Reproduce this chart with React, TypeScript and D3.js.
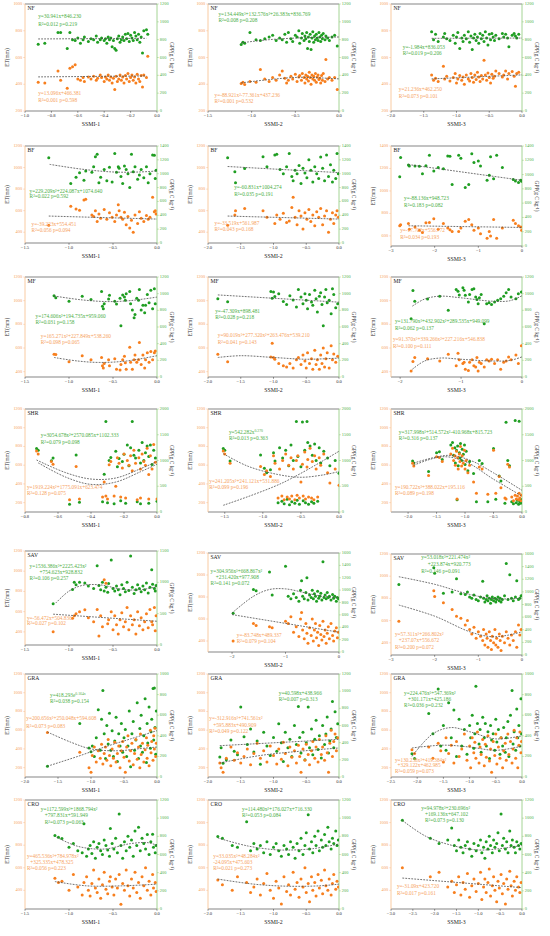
import React from 'react';
import * as d3 from 'd3';

// ---------- DATA: [SSMI, ET(mm), GPP] per panel ----------
const nf1 = [[-0.90,415,750],[-0.85,410,760],[-0.75,500,880],[-0.73,430,880],[-0.68,370,700],[-0.66,520,880],[-0.64,530,800],[-0.62,545,790],[-0.60,440,820],[-0.58,430,760],[-0.56,450,800],[-0.55,420,830],[-0.52,455,780],[-0.50,440,810],[-0.48,460,800],[-0.46,430,840],[-0.45,445,770],[-0.43,470,800],[-0.42,450,820],[-0.40,420,790],[-0.39,455,810],[-0.38,440,760],[-0.37,470,830],[-0.36,430,800],[-0.35,455,820],[-0.34,410,720],[-0.33,445,790],[-0.32,360,700],[-0.31,460,680],[-0.30,420,810],[-0.29,440,840],[-0.28,470,770],[-0.27,430,800],[-0.26,455,830],[-0.25,410,790],[-0.24,465,860],[-0.23,440,810],[-0.22,480,870],[-0.21,420,780],[-0.20,450,850],[-0.19,470,820],[-0.18,430,790],[-0.17,455,880],[-0.16,410,840],[-0.15,475,800],[-0.14,440,860],[-0.13,420,770],[-0.12,465,830],[-0.11,380,650],[-0.10,470,900],[-0.08,450,910],[-0.07,610,860]];
const nf2 = [[-1.12,405,745],[-1.10,415,770],[-1.08,398,760],[-1.02,420,880],[-0.95,415,800],[-0.90,510,790],[-0.85,440,810],[-0.80,420,830],[-0.76,450,850],[-0.72,430,790],[-0.68,470,820],[-0.65,500,800],[-0.62,445,860],[-0.60,410,770],[-0.58,430,880],[-0.55,460,810],[-0.53,440,780],[-0.50,475,850],[-0.48,420,830],[-0.46,455,900],[-0.45,465,760],[-0.43,430,820],[-0.42,480,870],[-0.40,450,790],[-0.39,410,840],[-0.38,470,810],[-0.37,440,880],[-0.36,460,700],[-0.35,425,830],[-0.34,490,780],[-0.33,450,860],[-0.32,400,690],[-0.31,470,820],[-0.30,440,890],[-0.29,460,770],[-0.28,430,840],[-0.27,480,800],[-0.26,415,860],[-0.25,455,820],[-0.24,470,790],[-0.23,435,880],[-0.22,445,830],[-0.21,410,780],[-0.20,465,850],[-0.19,430,810],[-0.18,480,870],[-0.16,420,800],[-0.15,585,840],[-0.13,440,820],[-0.11,450,790],[-0.08,430,830],[-0.05,450,850],[-0.02,360,730]];
const nf3 = [[-1.38,470,890],[-1.35,430,800],[-1.32,445,860],[-1.28,420,780],[-1.20,535,830],[-1.18,440,870],[-1.15,460,810],[-1.10,425,790],[-1.05,450,850],[-1.02,480,760],[-1.00,410,830],[-0.98,440,880],[-0.95,465,700],[-0.92,430,820],[-0.90,455,780],[-0.88,400,850],[-0.85,470,810],[-0.82,440,890],[-0.80,425,770],[-0.78,480,840],[-0.76,450,690],[-0.74,415,820],[-0.72,470,860],[-0.70,435,790],[-0.68,490,830],[-0.66,455,760],[-0.64,420,870],[-0.62,465,810],[-0.60,440,850],[-0.58,580,780],[-0.56,470,890],[-0.54,430,820],[-0.52,485,740],[-0.50,450,860],[-0.48,410,800],[-0.46,475,870],[-0.44,445,830],[-0.42,460,790],[-0.40,500,850],[-0.35,480,810],[-0.30,455,870],[-0.28,470,830],[-0.25,500,860],[-0.22,440,820],[-0.20,480,720],[-0.15,495,850],[-0.12,460,870],[-0.10,385,840],[-0.08,480,820],[-0.05,490,860]];
const bf1 = [[-1.23,465,1230],[-0.98,640,860],[-0.92,615,950],[-0.88,605,1015],[-0.83,700,905],[-0.81,705,1040],[-0.74,560,1020],[-0.72,545,1100],[-0.70,600,1245],[-0.68,500,1280],[-0.66,570,870],[-0.64,530,950],[-0.60,610,1060],[-0.57,520,900],[-0.54,580,1095],[-0.51,540,880],[-0.48,500,1290],[-0.46,560,1020],[-0.44,655,1100],[-0.43,600,1080],[-0.41,540,960],[-0.39,520,860],[-0.37,585,1110],[-0.35,470,1060],[-0.33,545,1000],[-0.31,440,800],[-0.29,510,1280],[-0.27,400,1030],[-0.25,560,1100],[-0.22,480,920],[-0.20,590,980],[-0.18,530,1060],[-0.15,500,940],[-0.12,555,1100],[-0.10,520,870],[-0.08,540,1000],[-0.05,725,1270],[-0.03,590,1265],[-0.02,600,930],[-0.01,570,1050]];
const bf2 = [[-1.70,465,1230],[-1.59,560,1030],[-1.58,600,870],[-1.44,620,1075],[-1.16,600,1245],[-1.10,540,1100],[-0.98,480,1270],[-0.95,560,1280],[-0.90,520,1060],[-0.85,575,1000],[-0.80,490,1100],[-0.76,505,1290],[-0.72,630,960],[-0.70,725,900],[-0.67,540,1050],[-0.64,470,1000],[-0.61,600,1120],[-0.58,550,860],[-0.55,430,1080],[-0.52,580,1010],[-0.49,520,940],[-0.46,610,1200],[-0.43,500,1050],[-0.40,560,880],[-0.37,460,1100],[-0.34,590,1000],[-0.31,540,930],[-0.28,620,1240],[-0.25,470,1080],[-0.22,550,900],[-0.19,600,1270],[-0.16,400,960],[-0.13,520,1130],[-0.10,580,880],[-0.08,480,1050],[-0.05,560,930],[-0.03,600,1290],[-0.01,540,1000]];
const bf3 = [[-2.80,690,970],[-2.78,700,1240],[-2.60,710,1135],[-2.58,660,1120],[-2.45,680,1120],[-2.35,650,1115],[-2.28,630,1010],[-2.20,716,1125],[-2.12,720,1270],[-2.02,752,1050],[-1.92,660,1100],[-1.80,710,1080],[-1.70,670,1260],[-1.65,655,1255],[-1.60,640,860],[-1.45,640,1270],[-1.40,670,1230],[-1.30,730,820],[-1.22,745,860],[-1.15,700,1290],[-1.10,650,1170],[-1.00,670,1190],[-0.95,620,1120],[-0.80,580,920],[-0.75,640,990],[-0.72,600,1250],[-0.65,745,940],[-0.58,580,1270],[-0.45,670,1100],[-0.20,740,930],[-0.15,710,910],[-0.08,690,890],[-0.03,680,920],[-0.01,650,905]];
const mf1 = [[-1.17,548,975],[-1.15,545,950],[-1.00,483,910],[-0.85,535,969],[-0.75,500,930],[-0.63,520,1026],[-0.62,450,850],[-0.61,430,820],[-0.60,470,880],[-0.55,500,935],[-0.54,450,980],[-0.48,510,910],[-0.46,420,875],[-0.42,415,945],[-0.41,460,616],[-0.39,500,985],[-0.37,530,960],[-0.36,475,920],[-0.35,420,1000],[-0.31,607,1025],[-0.30,480,880],[-0.28,420,805],[-0.26,500,710],[-0.25,540,750],[-0.23,480,945],[-0.21,500,920],[-0.20,647,1050],[-0.18,460,805],[-0.16,540,860],[-0.14,430,770],[-0.13,500,860],[-0.11,560,990],[-0.09,480,890],[-0.07,570,1040],[-0.05,500,820],[-0.03,560,1060],[-0.02,575,880]];
const mf2 = [[-1.85,548,938],[-1.70,483,904],[-1.04,525,1026],[-1.02,640,945],[-1.00,520,1020],[-0.98,505,965],[-0.92,470,1000],[-0.85,450,905],[-0.80,440,870],[-0.75,470,975],[-0.70,430,925],[-0.65,500,840],[-0.62,520,1050],[-0.58,460,960],[-0.55,540,880],[-0.52,490,1000],[-0.50,430,920],[-0.48,560,820],[-0.45,470,990],[-0.42,510,900],[-0.40,420,860],[-0.37,580,1040],[-0.35,460,940],[-0.33,500,780],[-0.30,420,970],[-0.28,540,1010],[-0.26,470,870],[-0.24,600,616],[-0.22,440,960],[-0.20,510,1050],[-0.18,560,890],[-0.15,430,920],[-0.12,620,760],[-0.10,500,1060],[-0.08,550,990],[-0.05,480,830],[-0.02,530,880]];
const mf3 = [[-1.82,405,700],[-1.79,486,1038],[-1.76,520,910],[-1.55,510,935],[-1.35,490,970],[-1.21,548,800],[-1.08,450,1050],[-1.05,555,1030],[-1.03,500,985],[-0.97,470,1070],[-0.95,480,1040],[-0.93,420,980],[-0.88,410,900],[-0.86,480,990],[-0.82,500,1050],[-0.79,450,1060],[-0.76,440,960],[-0.74,520,930],[-0.72,405,880],[-0.70,480,950],[-0.67,470,990],[-0.62,440,640],[-0.58,500,880],[-0.54,490,890],[-0.50,505,870],[-0.45,470,900],[-0.40,500,920],[-0.35,420,940],[-0.30,480,970],[-0.26,490,1010],[-0.22,525,1050],[-0.18,500,960],[-0.10,540,940],[-0.06,470,1000],[-0.01,620,1020]];
const shr1 = [[-0.73,751,1233],[-0.72,720,1200],[-0.64,640,997],[-0.63,610,1050],[-0.53,230,150],[-0.49,586,1105],[-0.47,240,190],[-0.33,260,200],[-0.32,420,735],[-0.31,270,1757],[-0.30,240,180],[-0.29,604,1000],[-0.28,640,1060],[-0.26,270,160],[-0.25,375,1180],[-0.24,680,880],[-0.23,620,1040],[-0.22,260,220],[-0.21,570,980],[-0.20,720,1120],[-0.19,250,170],[-0.18,650,1300],[-0.17,600,900],[-0.16,700,1250],[-0.15,540,1757],[-0.14,760,1100],[-0.13,620,1050],[-0.12,230,200],[-0.11,680,1200],[-0.10,560,950],[-0.10,250,160],[-0.09,720,1350],[-0.08,640,1000],[-0.07,600,1150],[-0.06,780,1280],[-0.05,500,1080],[-0.05,240,170],[-0.04,700,1300],[-0.03,560,920],[-0.02,820,1200],[-0.01,630,1050],[0.00,240,210]];
const shr2 = [[-1.52,751,1233],[-1.50,720,1200],[-1.43,621,990],[-1.03,586,1105],[-0.98,500,850],[-0.95,540,760],[-0.90,480,820],[-0.86,700,1150],[-0.84,620,990],[-0.80,250,180],[-0.78,560,1250],[-0.75,270,210],[-0.74,650,1050],[-0.72,230,160],[-0.70,720,1200],[-0.68,260,250],[-0.66,600,900],[-0.65,240,140],[-0.63,680,1300],[-0.62,270,200],[-0.60,560,1000],[-0.58,230,170],[-0.56,650,1757],[-0.55,280,230],[-0.54,700,1080],[-0.52,250,150],[-0.50,420,880],[-0.48,610,1750],[-0.47,270,220],[-0.45,740,1200],[-0.44,240,180],[-0.42,580,1757],[-0.41,660,1350],[-0.40,260,150],[-0.38,780,1280],[-0.36,250,200],[-0.35,640,1100],[-0.33,230,170],[-0.32,700,1320],[-0.30,560,1000],[-0.28,260,210],[-0.26,680,1250],[-0.24,600,950],[-0.20,720,1180],[-0.15,520,1050],[-0.12,410,900],[-0.05,560,1000],[0.00,386,754]];
const shr3 = [[-1.92,621,990],[-1.90,590,950],[-1.64,491,787],[-1.50,690,1150],[-1.45,681,1170],[-1.40,640,1020],[-1.25,720,1300],[-1.22,780,1350],[-1.20,650,1100],[-1.18,700,1250],[-1.17,600,950],[-1.15,750,1200],[-1.14,240,240],[-1.13,680,1280],[-1.12,560,900],[-1.10,720,1150],[-1.09,640,1050],[-1.08,800,1330],[-1.06,590,1000],[-1.05,700,1220],[-1.03,620,1120],[-1.01,760,1300],[-1.00,560,920],[-0.98,650,1180],[-0.95,520,800],[-0.92,600,980],[-0.85,420,750],[-0.80,300,200],[-0.75,580,1000],[-0.70,560,940],[-0.60,290,200],[-0.50,760,1233],[-0.46,300,250],[-0.40,480,700],[-0.37,358,600],[-0.30,250,170],[-0.28,240,1745],[-0.25,610,1000],[-0.22,580,900],[-0.18,260,200],[-0.15,220,160],[-0.12,280,1776],[-0.10,240,180],[-0.08,270,230],[-0.06,230,150],[-0.05,300,1760],[-0.04,250,200],[-0.02,220,170],[-0.01,280,240]];
const sav1 = [[-1.18,400,657],[-0.96,535,884],[-0.94,560,1003],[-0.92,580,960],[-0.88,600,1000],[-0.82,619,990],[-0.78,540,940],[-0.72,500,900],[-0.68,620,1263],[-0.66,360,950],[-0.64,560,880],[-0.62,450,1000],[-0.60,916,860],[-0.58,880,920],[-0.56,480,840],[-0.55,520,980],[-0.52,600,1357],[-0.50,420,900],[-0.48,560,860],[-0.46,470,940],[-0.44,380,880],[-0.42,520,800],[-0.40,590,960],[-0.38,450,900],[-0.36,500,850],[-0.34,640,1000],[-0.32,420,870],[-0.30,560,1419],[-0.28,470,920],[-0.26,520,820],[-0.24,380,880],[-0.22,600,960],[-0.20,460,900],[-0.18,540,850],[-0.16,420,940],[-0.14,500,880],[-0.12,580,990],[-0.10,440,830],[-0.08,620,920],[-0.06,500,1201],[-0.05,470,970],[-0.03,640,900],[-0.02,410,860],[-0.01,560,950]];
const sav2 = [[-1.98,400,626],[-1.60,560,1010],[-1.55,540,990],[-1.30,530,1293],[-1.25,520,920],[-1.00,580,1385],[-0.95,560,900],[-0.90,620,860],[-0.85,480,940],[-0.80,530,880],[-0.75,440,820],[-0.72,600,1000],[-0.70,660,1150],[-0.68,500,900],[-0.65,420,860],[-0.62,560,960],[-0.60,470,1200],[-0.58,380,840],[-0.55,520,920],[-0.52,450,880],[-0.50,600,1000],[-0.48,400,860],[-0.46,500,940],[-0.44,560,900],[-0.42,430,820],[-0.40,480,980],[-0.38,360,870],[-0.36,540,900],[-0.34,460,950],[-0.32,410,840],[-0.30,580,1457],[-0.28,440,880],[-0.26,500,920],[-0.24,380,860],[-0.22,470,960],[-0.20,530,880],[-0.18,420,900],[-0.15,560,840],[-0.12,450,930],[-0.10,400,870],[-0.08,490,900],[-0.05,520,820],[-0.03,430,880],[-0.01,480,860]];
const sav3 = [[-2.82,594,1118],[-2.02,868,1382],[-2.00,816,1295],[-1.80,760,980],[-1.60,700,1000],[-1.50,640,1209],[-1.40,620,970],[-1.30,560,960],[-1.25,600,1000],[-1.20,520,920],[-1.15,480,900],[-1.10,540,950],[-1.05,440,880],[-1.00,500,860],[-0.95,460,920],[-0.90,420,1168],[-0.88,520,900],[-0.85,380,840],[-0.82,480,880],[-0.80,440,940],[-0.78,360,860],[-0.75,500,900],[-0.72,420,820],[-0.70,340,880],[-0.68,460,920],[-0.65,400,860],[-0.62,520,900],[-0.60,380,840],[-0.58,440,880],[-0.55,360,920],[-0.52,480,860],[-0.50,420,900],[-0.48,330,840],[-0.45,460,880],[-0.40,400,940],[-0.36,500,1448],[-0.32,440,880],[-0.28,380,1270],[-0.24,470,900],[-0.20,420,860],[-0.15,500,920],[-0.12,360,1178],[-0.08,560,880],[-0.05,470,900],[-0.02,520,940]];
const gra1 = [[-1.66,575,105],[-1.17,365,520],[-1.03,200,281],[-1.00,150,245],[-0.98,330,300],[-0.95,420,200],[-0.92,260,380],[-0.89,380,654],[-0.86,300,260],[-0.84,450,560],[-0.82,240,839],[-0.80,350,420],[-0.78,420,180],[-0.76,280,500],[-0.74,500,320],[-0.72,330,620],[-0.70,220,260],[-0.68,400,450],[-0.66,300,200],[-0.64,470,350],[-0.62,260,580],[-0.60,350,150],[-0.58,430,420],[-0.56,200,300],[-0.54,380,520],[-0.52,480,240],[-0.50,310,380],[-0.48,150,460],[-0.46,420,200],[-0.44,540,300],[-0.42,270,640],[-0.40,380,100],[-0.38,460,420],[-0.36,230,540],[-0.34,350,260],[-0.32,500,360],[-0.30,290,720],[-0.28,420,180],[-0.26,200,470],[-0.25,560,300],[-0.24,340,600],[-0.22,460,240],[-0.20,260,400],[-0.18,390,760],[-0.16,520,140],[-0.15,300,520],[-0.14,440,330],[-0.12,220,680],[-0.10,600,280],[-0.09,360,440],[-0.08,480,560],[-0.06,280,860],[-0.05,540,360],[-0.04,400,865],[-0.03,620,480],[-0.02,320,220],[-0.01,460,640]];
const gra2 = [[-1.82,250,233],[-1.80,200,340],[-1.77,150,160],[-1.72,300,200],[-1.65,420,430],[-1.60,280,300],[-1.55,360,260],[-1.50,250,815],[-1.45,320,470],[-1.40,400,380],[-1.35,230,560],[-1.30,350,290],[-1.25,460,420],[-1.20,300,150],[-1.15,380,520],[-1.10,260,360],[-1.05,430,250],[-1.00,330,460],[-0.95,240,300],[-0.92,400,620],[-0.88,290,400],[-0.85,470,180],[-0.82,350,520],[-0.78,220,340],[-0.75,420,440],[-0.72,310,240],[-0.68,380,600],[-0.65,250,380],[-0.62,440,820],[-0.60,320,460],[-0.58,150,280],[-0.55,400,520],[-0.52,280,200],[-0.50,450,400],[-0.47,340,815],[-0.45,230,340],[-0.42,380,560],[-0.40,480,260],[-0.37,300,440],[-0.35,420,660],[-0.32,260,320],[-0.30,500,480],[-0.27,340,220],[-0.25,420,600],[-0.22,280,380],[-0.20,540,500],[-0.18,360,700],[-0.16,150,280],[-0.14,460,420],[-0.12,600,560],[-0.10,320,880],[-0.08,480,340],[-0.06,560,760],[-0.04,380,460],[-0.02,520,620]];
const gra3 = [[-2.10,390,226],[-2.05,350,180],[-1.78,420,616],[-1.70,300,420],[-1.60,460,855],[-1.55,380,300],[-1.50,260,500],[-1.45,520,260],[-1.40,350,720],[-1.35,440,380],[-1.30,250,650],[-1.25,480,200],[-1.20,320,560],[-1.15,400,300],[-1.10,560,460],[-1.05,280,220],[-1.00,430,500],[-0.98,200,380],[-0.95,520,600],[-0.92,360,280],[-0.90,470,420],[-0.88,300,880],[-0.85,580,520],[-0.82,250,320],[-0.80,420,460],[-0.78,340,240],[-0.75,500,580],[-0.72,220,380],[-0.70,450,520],[-0.68,310,300],[-0.65,540,440],[-0.62,270,180],[-0.60,400,500],[-0.58,150,360],[-0.55,480,420],[-0.52,330,260],[-0.50,560,560],[-0.48,240,340],[-0.45,420,460],[-0.42,300,220],[-0.40,520,380],[-0.37,200,300],[-0.35,380,480],[-0.32,460,240],[-0.30,280,380],[-0.27,560,540],[-0.25,340,200],[-0.22,480,600],[-0.19,250,839],[-0.17,400,320],[-0.15,600,440],[-0.12,300,260],[-0.10,520,660],[-0.08,200,380],[-0.06,440,500],[-0.04,580,300],[-0.02,360,760],[-0.01,480,420]];
const cro1 = [[-1.16,508,808],[-1.12,470,790],[-1.08,480,777],[-1.00,400,680],[-0.95,540,720],[-0.90,430,640],[-0.85,360,620],[-0.83,470,938],[-0.80,520,580],[-0.78,400,660],[-0.76,350,700],[-0.74,460,610],[-0.72,580,740],[-0.70,420,560],[-0.68,380,680],[-0.66,500,720],[-0.64,330,640],[-0.62,450,600],[-0.60,560,760],[-0.58,410,700],[-0.56,370,650],[-0.54,480,580],[-0.53,520,885],[-0.51,430,720],[-0.49,360,660],[-0.47,500,780],[-0.45,420,620],[-0.43,540,1046],[-0.41,277,700],[-0.39,460,560],[-0.37,400,740],[-0.35,580,640],[-0.33,440,800],[-0.31,350,680],[-0.29,500,760],[-0.27,420,580],[-0.25,560,860],[-0.23,380,700],[-0.21,470,900],[-0.19,330,640],[-0.17,520,780],[-0.15,440,720],[-0.13,600,660],[-0.11,400,820],[-0.09,480,600],[-0.07,360,740],[-0.05,540,823],[-0.04,420,680],[-0.02,470,620],[-0.01,390,700]];
const cro2 = [[-1.85,492,797],[-1.78,450,780],[-1.63,400,700],[-1.55,520,680],[-1.41,470,961],[-1.35,380,640],[-1.30,430,720],[-1.25,500,660],[-1.20,360,700],[-1.15,460,620],[-1.10,550,740],[-1.05,400,600],[-1.00,330,680],[-0.96,480,720],[-0.92,420,640],[-0.88,280,580],[-0.84,520,700],[-0.80,390,660],[-0.77,450,600],[-0.74,360,740],[-0.70,560,680],[-0.67,410,560],[-0.64,470,720],[-0.61,340,640],[-0.58,500,780],[-0.55,430,600],[-0.52,600,700],[-0.50,380,840],[-0.47,460,1038],[-0.45,300,660],[-0.42,520,740],[-0.40,400,620],[-0.37,470,800],[-0.35,350,700],[-0.32,540,860],[-0.30,420,640],[-0.27,490,760],[-0.25,370,680],[-0.22,580,820],[-0.20,440,700],[-0.17,400,900],[-0.15,500,740],[-0.12,360,660],[-0.10,460,780],[-0.08,540,720],[-0.05,410,860],[-0.03,480,700],[-0.01,430,760]];
const cro3 = [[-2.74,600,977],[-2.10,520,780],[-1.90,560,720],[-1.70,430,760],[-1.61,480,892],[-1.55,380,700],[-1.50,450,640],[-1.45,520,760],[-1.40,360,680],[-1.35,470,620],[-1.30,410,700],[-1.25,550,740],[-1.20,340,660],[-1.15,440,580],[-1.10,500,720],[-1.05,390,640],[-1.00,460,700],[-0.95,560,760],[-0.92,320,620],[-0.88,430,680],[-0.85,500,560],[-0.82,380,740],[-0.78,470,660],[-0.75,590,800],[-0.72,350,700],[-0.68,440,620],[-0.65,520,760],[-0.62,400,680],[-0.58,300,720],[-0.55,480,840],[-0.52,420,640],[-0.48,540,1046],[-0.45,370,700],[-0.42,460,780],[-0.38,280,660],[-0.35,500,740],[-0.32,410,620],[-0.28,570,860],[-0.25,440,700],[-0.22,350,760],[-0.18,480,680],[-0.15,400,620],[-0.12,520,740],[-0.08,430,700],[-0.05,380,660],[-0.02,470,720]];

// ---------- fitted trend lines: [SSMI, value] ----------
const nf1EtFit = [[-0.90,455],[-0.08,462]];
const nf1GppFit = [[-0.90,808],[-0.08,815]];
const nf2EtFit = [[-1.12,410],[-0.8,435],[-0.45,452],[-0.2,447],[0,440]];
const nf2GppFit = [[-1.12,765],[-0.8,800],[-0.45,820],[-0.2,825],[0,830]];
const nf3EtFit = [[-1.38,440],[0,470]];
const nf3GppFit = [[-1.38,815],[0,818]];
const bf1EtFit = [[-1.23,550],[0,522]];
const bf1GppFit = [[-1.22,1135],[-0.85,1065],[-0.5,1025],[-0.2,1025],[0,1040]];
const bf2EtFit = [[-1.70,550],[0,522]];
const bf2GppFit = [[-1.70,1104],[0,1016]];
const bf3EtFit = [[-2.60,690],[0,675]];
const bf3GppFit = [[-2.60,1140],[0,920]];
const mf1EtFit = [[-1.17,520],[-0.9,490],[-0.65,478],[-0.35,490],[0,535]];
const mf1GppFit = [[-1.17,972],[-0.85,925],[-0.56,905],[-0.3,917],[0,959]];
const mf2EtFit = [[-1.85,520],[-1.5,535],[-1.0,520],[-0.5,505],[0,515]];
const mf2GppFit = [[-1.85,985],[0,898]];
const mf3EtFit = [[-1.8,420],[-1.6,490],[-1.35,515],[-1.0,505],[-0.5,490],[-0.2,495],[0,525]];
const mf3GppFit = [[-1.8,850],[-1.6,935],[-1.35,970],[-1.0,950],[-0.5,910],[-0.2,915],[0,975]];
const shr1EtFit = [[-0.72,625],[-0.55,470],[-0.4,395],[-0.25,420],[-0.1,530],[0,610]];
const shr1GppFit = [[-0.73,1010],[-0.55,760],[-0.4,640],[-0.25,660],[-0.1,840],[0,980]];
const shr2EtFit = [[-1.52,723],[-1.2,590],[-0.8,500],[-0.5,471],[-0.2,497],[0,532]];
const shr2GppFit = [[-1.52,130],[-0.75,560],[0,1180]];
const shr3EtFit = [[-1.9,600],[-1.4,690],[-1.0,640],[-0.5,450],[0,270]];
const shr3GppFit = [[-1.9,950],[-1.3,1100],[-0.9,1000],[-0.5,760],[0,420]];
const sav1EtFit = [[-1.18,575],[0,505]];
const sav1GppFit = [[-1.15,670],[-1.0,860],[-0.85,950],[-0.65,960],[-0.4,890],[-0.2,880],[0,930]];
const sav2EtFit = [[-2.0,640],[0,480]];
const sav2GppFit = [[-2.0,630],[-1.6,900],[-1.3,1010],[-1.0,1020],[-0.6,950],[-0.3,900],[0,880]];
const sav3EtFit = [[-2.82,740],[-2.0,640],[-1.2,500],[-0.7,455],[-0.3,470],[0,500]];
const sav3GppFit = [[-2.82,1240],[-2.0,1120],[-1.2,960],[-0.6,890],[0,900]];
const gra1EtFit = [[-1.66,580],[-1.3,470],[-1.0,400],[-0.6,380],[-0.3,400],[0,420]];
const gra1GppFit = [[-1.66,105],[-1.2,200],[-0.8,290],[-0.4,370],[0,450]];
const gra2EtFit = [[-1.82,250],[-1.2,330],[-0.6,375],[0,410]];
const gra2GppFit = [[-1.82,365],[0,439]];
const gra3EtFit = [[-2.1,410],[-1.5,440],[-1.0,420],[-0.5,385],[0,430]];
const gra3GppFit = [[-2.1,200],[-1.7,420],[-1.35,480],[-1.0,440],[-0.5,370],[0,400]];
const cro1EtFit = [[-1.16,478],[-0.8,440],[-0.4,440],[0,455]];
const cro1GppFit = [[-1.14,790],[-0.9,690],[-0.6,660],[-0.3,720],[-0.1,730],[0,700]];
const cro2EtFit = [[-1.85,500],[-1.3,455],[-0.8,437],[-0.3,440],[0,455]];
const cro2GppFit = [[-1.85,782],[-1.4,695],[-1.0,654],[-0.77,649],[-0.4,664],[0,716]];
const cro3EtFit = [[-2.74,509],[0,424]];
const cro3GppFit = [[-2.74,975],[-2.2,800],[-1.6,700],[-1.0,650],[-0.5,665],[0,700]];

// ---------- equation labels ----------
const nf1GppEq = ['y=30.941x+846.230', 'R²=0.012 p=0.219'];
const nf1EtEq = ['y=13.096x+466.381', 'R²=0.001 p=0.598'];
const nf2GppEq = ['y=134.449x³+132.576x²+26.383x+836.769', 'R²=0.008 p=0.208'];
const nf2EtEq = ['y=-88.921x²-77.361x+437.236', 'R²=0.001 p=0.532'];
const nf3GppEq = ['y=-1.984x+836.053', 'R²=0.019 p=0.206'];
const nf3EtEq = ['y=21.236x+462.250', 'R²=0.073 p=0.101'];
const bf1GppEq = ['y=229.209x²+224.087x+1074.640', 'R²=0.022 p=0.592'];
const bf1EtEq = ['y=-39.223x+554.451', 'R²=0.056 p=0.094'];
const bf2GppEq = ['y=-60.831x+1004.274', 'R²=0.035 p=0.191'];
const bf2EtEq = ['y=-33.519x+561.987', 'R²=0.043 p=0.168'];
const bf3GppEq = ['y=-88.136x+948.723', 'R²=0.183 p=0.082'];
const bf3EtEq = ['y=-17.702x+556.772', 'R²=0.034 p=0.193'];
const mf1GppEq = ['y=174.606x²+194.735x+959.060', 'R²=0.031 p=0.158'];
const mf1EtEq = ['y=165.271x²+227.849x+538.260', 'R²=0.098 p=0.065'];
const mf2GppEq = ['y=-47.309x+898.481', 'R²=0.028 p=0.218'];
const mf2EtEq = ['y=90.019x³+277.320x²+263.476x+539.210', 'R²=0.041 p=0.143'];
const mf3GppEq = ['y=131.790x³+432.902x²+289.535x+949.099', 'R²=0.062 p=0.137'];
const mf3EtEq = ['y=91.370x³+339.266x²+227.216x+546.838', 'R²=0.100 p=0.111'];
const shr1GppEq = ['y=3054.678x²+2570.085x+1102.333', 'R²=0.079 p=0.098'];
const shr1EtEq = ['y=1919.224x²+1775.091x+623.474', 'R²=0.128 p=0.075'];
const shr2GppEq = ['y=542.282x^{0.270}', 'R²=0.013 p=0.363'];
const shr2EtEq = ['y=241.205x²+241.121x+531.886', 'R²=0.099 p=0.196'];
const shr3GppEq = ['y=317.998x³+514.572x²-410.968x+815.723', 'R²=0.316 p=0.137'];
const shr3EtEq = ['y=190.722x²+388.022x+195.116', 'R²=0.089 p=0.198'];
const sav1GppEq = ['y=1536.386x³+2225.423x²', '+754.623x+928.832', 'R²=0.106 p=0.257'];
const sav1EtEq = ['y=-56.472x+504.836', 'R²=0.027 p=0.102'];
const sav2GppEq = ['y=304.956x³+668.867x²', '+231.420x+977.908', 'R²=0.141 p=0.072'];
const sav2EtEq = ['y=-83.748x+489.337', 'R²=0.079 p=0.104'];
const sav3GppEq = ['y=53.018x³+221.474x²', '+223.874x+920.773', 'R²=0.146 p=0.091'];
const sav3EtEq = ['y=57.311x³+266.802x²', '+237.07x+556.672', 'R²=0.200 p=0.072'];
const gra1GppEq = ['y=418.293e^{0.164x}', 'R²=0.038 p=0.154'];
const gra1EtEq = ['y=200.656x²+250.048x+594.608', 'R²=0.073 p=0.083'];
const gra2GppEq = ['y=40.598x+438.966', 'R²=0.007 p=0.313'];
const gra2EtEq = ['y=-312.916x³+741.561x²', '+595.883x+490.909', 'R²=0.049 p=0.122'];
const gra3GppEq = ['y=224.476x³+547.369x²', '+301.171x+425.186', 'R²=0.036 p=0.232'];
const gra3EtEq = ['y=130.238x³+419.384x²', '+329.122x+462.985', 'R²=0.059 p=0.073'];
const cro1GppEq = ['y=1172.599x³+1868.794x²', '+797.831x+591.949', 'R²=0.073 p=0.063'];
const cro1EtEq = ['y=465.536x³+784.978x²', '+325.335x+478.325', 'R²=0.056 p=0.223'];
const cro2GppEq = ['y=114.480x²+176.027x+716.330', 'R²=0.053 p=0.084'];
const cro2EtEq = ['y=33.035x³+48.284x²', '-24.095x+475.603', 'R²=0.021 p=0.273'];
const cro3GppEq = ['y=94.978x³+230.696x²', '+169.136x+647.102', 'R²=0.073 p=0.130'];
const cro3EtEq = ['y=-31.09x+423.720', 'R²=0.017 p=0.161'];

// ---------- tick values ----------
const xT1 = [-1, -0.8, -0.6, -0.4, -0.2, 0];
const xT15 = [-1.5, -1, -0.5, 0];
const xT2 = [-2, -1.5, -1, -0.5, 0];
const xT25 = [-2.5, -2, -1.5, -1, -0.5, 0];
const xT3int = [-3, -2, -1, 0];
const xT2int = [-2, -1, 0];
const xT3half = [-3, -2.5, -2, -1.5, -1, -0.5, 0];
const xT08 = [-0.8, -0.6, -0.4, -0.2, 0];
const etT200 = [200, 400, 600, 800, 1000];
const etT400 = [400, 600, 800, 1000, 1200];
const etT600 = [600, 800, 1000, 1200, 1400];
const etT200b = [200, 400, 600, 800, 1000, 1200];
const gT1200 = [0, 200, 400, 600, 800, 1000, 1200];
const gT1400 = [0, 200, 400, 600, 800, 1000, 1200, 1400];
const gT1600 = [0, 200, 400, 600, 800, 1000, 1200, 1400, 1600];
const gT1000 = [0, 200, 400, 600, 800, 1000];
const gT2000 = [0, 500, 1000, 1500, 2000];
const gT1500 = [0, 500, 1000, 1500];

const labels = ['NF', 'BF', 'MF', 'SHR', 'SAV', 'GRA', 'CRO'];

// ---------- layout ----------
const W = 550, H = 936;
const colX = [[25, 157], [208, 339], [391, 522]];
const rowY = [[4, 111], [146, 243], [277, 377], [409, 512], [551, 645], [674, 777], [800, 909]];

type P = [number, number];
interface Cfg {
  row: number; col: number; data: number[][];
  etFit: number[][]; gppFit: number[][];
  etEq: string[]; gppEq: string[];
  xDom: P; xTicks: number[]; xFmt: string;
  etDom: P; etTicks: number[]; gDom: P; gTicks: number[];
  gPos: P[]; ePos: P[]; dTop?: number; dBot?: number;
}

const panels: Cfg[] = [
  { row: 0, col: 0, data: nf1, etFit: nf1EtFit, gppFit: nf1GppFit, etEq: nf1EtEq, gppEq: nf1GppEq, xDom: [-1, 0], xTicks: xT1, xFmt: '.1f', etDom: [200, 1000], etTicks: etT200, gDom: [0, 1200], gTicks: gT1200, gPos: [[0.10, 0.12], [0.10, 0.195]], ePos: [[0.10, 0.84], [0.10, 0.905]] },
  { row: 0, col: 1, data: nf2, etFit: nf2EtFit, gppFit: nf2GppFit, etEq: nf2EtEq, gppEq: nf2GppEq, xDom: [-1.5, 0], xTicks: xT15, xFmt: '.1f', etDom: [200, 1000], etTicks: etT200, gDom: [0, 1200], gTicks: gT1200, gPos: [[0.08, 0.10], [0.08, 0.16]], ePos: [[0.05, 0.86], [0.05, 0.915]] },
  { row: 0, col: 2, data: nf3, etFit: nf3EtFit, gppFit: nf3GppFit, etEq: nf3EtEq, gppEq: nf3GppEq, xDom: [-2, 0], xTicks: xT2, xFmt: '.1f', etDom: [200, 1000], etTicks: etT200, gDom: [0, 1200], gTicks: gT1200, gPos: [[0.09, 0.41], [0.09, 0.465]], ePos: [[0.06, 0.80], [0.06, 0.87]] },
  { row: 1, col: 0, data: bf1, etFit: bf1EtFit, gppFit: bf1GppFit, etEq: bf1EtEq, gppEq: bf1GppEq, xDom: [-1.5, 0], xTicks: xT15, xFmt: '.1f', etDom: [300, 1200], etTicks: etT400, gDom: [0, 1400], gTicks: gT1400, gPos: [[0.035, 0.47], [0.035, 0.53]], ePos: [[0.05, 0.81], [0.05, 0.88]] },
  { row: 1, col: 1, data: bf2, etFit: bf2EtFit, gppFit: bf2GppFit, etEq: bf2EtEq, gppEq: bf2GppEq, xDom: [-2, 0], xTicks: xT2, xFmt: '.1f', etDom: [300, 1200], etTicks: etT400, gDom: [0, 1400], gTicks: gT1400, gPos: [[0.2, 0.43], [0.2, 0.50]], ePos: [[0.05, 0.80], [0.05, 0.87]] },
  { row: 1, col: 2, data: bf3, etFit: bf3EtFit, gppFit: bf3GppFit, etEq: bf3EtEq, gppEq: bf3GppEq, xDom: [-3, 0], xTicks: xT3int, xFmt: 'd', etDom: [510, 1400], etTicks: etT600, gDom: [0, 1400], gTicks: gT1400, gPos: [[0.10, 0.53], [0.10, 0.60]], ePos: [[0.07, 0.85], [0.07, 0.92]], dBot: 3 },
  { row: 2, col: 0, data: mf1, etFit: mf1EtFit, gppFit: mf1GppFit, etEq: mf1EtEq, gppEq: mf1GppEq, xDom: [-1.5, 0], xTicks: xT15, xFmt: '.1f', etDom: [355, 1200], etTicks: etT400, gDom: [0, 1200], gTicks: gT1200, gPos: [[0.08, 0.40], [0.08, 0.46]], ePos: [[0.12, 0.60], [0.12, 0.66]] },
  { row: 2, col: 1, data: mf2, etFit: mf2EtFit, gppFit: mf2GppFit, etEq: mf2EtEq, gppEq: mf2GppEq, xDom: [-2, 0], xTicks: xT2, xFmt: '.1f', etDom: [355, 1200], etTicks: etT400, gDom: [0, 1200], gTicks: gT1200, gPos: [[0.055, 0.35], [0.055, 0.41]], ePos: [[0.075, 0.59], [0.075, 0.66]] },
  { row: 2, col: 2, data: mf3, etFit: mf3EtFit, gppFit: mf3GppFit, etEq: mf3EtEq, gppEq: mf3GppEq, xDom: [-2.15, 0], xTicks: xT2int, xFmt: 'd', etDom: [355, 1200], etTicks: etT400, gDom: [0, 1200], gTicks: gT1200, gPos: [[0.03, 0.45], [0.03, 0.52]], ePos: [[0.015, 0.63], [0.015, 0.70]] },
  { row: 3, col: 0, data: shr1, etFit: shr1EtFit, gppFit: shr1GppFit, etEq: shr1EtEq, gppEq: shr1GppEq, xDom: [-0.8, 0], xTicks: xT08, xFmt: '.1f', etDom: [100, 1200], etTicks: etT200b, gDom: [0, 2000], gTicks: gT2000, gPos: [[0.12, 0.26], [0.12, 0.33]], ePos: [[0.015, 0.77], [0.015, 0.83]] },
  { row: 3, col: 1, data: shr2, etFit: shr2EtFit, gppFit: shr2GppFit, etEq: shr2EtEq, gppEq: shr2GppEq, xDom: [-1.72, 0], xTicks: xT15, xFmt: '.1f', etDom: [100, 1200], etTicks: etT200b, gDom: [0, 2000], gTicks: gT2000, gPos: [[0.16, 0.23], [0.16, 0.29]], ePos: [[0.01, 0.71], [0.01, 0.77]] },
  { row: 3, col: 2, data: shr3, etFit: shr3EtFit, gppFit: shr3GppFit, etEq: shr3EtEq, gppEq: shr3GppEq, xDom: [-2.3, 0], xTicks: xT2, xFmt: '.1f', etDom: [100, 1200], etTicks: etT200b, gDom: [0, 2000], gTicks: gT2000, gPos: [[0.06, 0.23], [0.06, 0.29]], ePos: [[0.03, 0.77], [0.03, 0.83]] },
  { row: 4, col: 0, data: sav1, etFit: sav1EtFit, gppFit: sav1GppFit, etEq: sav1EtEq, gppEq: sav1GppEq, xDom: [-1.5, 0], xTicks: xT15, xFmt: '.1f', etDom: [270, 1200], etTicks: etT400, gDom: [0, 1500], gTicks: gT1500, gPos: [[0.035, 0.17], [0.11, 0.235], [0.035, 0.30]], ePos: [[0.015, 0.72], [0.015, 0.78]] },
  { row: 4, col: 1, data: sav2, etFit: sav2EtFit, gppFit: sav2GppFit, etEq: sav2EtEq, gppEq: sav2GppEq, xDom: [-2.45, 0], xTicks: xT2int, xFmt: 'd', etDom: [300, 1200], etTicks: etT400, gDom: [0, 1600], gTicks: gT1600, gPos: [[0.02, 0.19], [0.06, 0.25], [0.02, 0.31]], ePos: [[0.22, 0.84], [0.22, 0.90]], dTop: 2, dBot: 7 },
  { row: 4, col: 2, data: sav3, etFit: sav3EtFit, gppFit: sav3GppFit, etEq: sav3EtEq, gppEq: sav3GppEq, xDom: [-3, 0], xTicks: xT3int, xFmt: 'd', etDom: [290, 1200], etTicks: etT400, gDom: [0, 1600], gTicks: gT1600, gPos: [[0.23, 0.04], [0.28, 0.105], [0.23, 0.175]], ePos: [[0.03, 0.80], [0.06, 0.865], [0.03, 0.93]], dTop: 3, dBot: 10 },
  { row: 5, col: 0, data: gra1, etFit: gra1EtFit, gppFit: gra1GppFit, etEq: gra1EtEq, gppEq: gra1GppEq, xDom: [-2, 0], xTicks: xT2, xFmt: '.1f', etDom: [100, 1200], etTicks: etT200b, gDom: [0, 1000], gTicks: gT1000, gPos: [[0.19, 0.21], [0.19, 0.27]], ePos: [[0.01, 0.44], [0.01, 0.51]] },
  { row: 5, col: 1, data: gra2, etFit: gra2EtFit, gppFit: gra2GppFit, etEq: gra2EtEq, gppEq: gra2GppEq, xDom: [-2, 0], xTicks: xT2, xFmt: '.1f', etDom: [100, 1200], etTicks: etT200b, gDom: [0, 1200], gTicks: gT1200, gPos: [[0.54, 0.19], [0.54, 0.25]], ePos: [[0.01, 0.44], [0.04, 0.505], [0.01, 0.565]] },
  { row: 5, col: 2, data: gra3, etFit: gra3EtFit, gppFit: gra3GppFit, etEq: gra3EtEq, gppEq: gra3GppEq, xDom: [-2.5, 0], xTicks: xT25, xFmt: '.1f', etDom: [100, 1200], etTicks: etT200b, gDom: [0, 1000], gTicks: gT1000, gPos: [[0.10, 0.19], [0.13, 0.25], [0.10, 0.31]], ePos: [[0.03, 0.84], [0.05, 0.895], [0.03, 0.95]] },
  { row: 6, col: 0, data: cro1, etFit: cro1EtFit, gppFit: cro1GppFit, etEq: cro1EtEq, gppEq: cro1GppEq, xDom: [-1.5, 0], xTicks: xT15, xFmt: '.1f', etDom: [235, 1200], etTicks: etT400, gDom: [0, 1200], gTicks: gT1200, gPos: [[0.12, 0.09], [0.15, 0.15], [0.15, 0.21]], ePos: [[0.015, 0.52], [0.04, 0.575], [0.015, 0.63]] },
  { row: 6, col: 1, data: cro2, etFit: cro2EtFit, gppFit: cro2GppFit, etEq: cro2EtEq, gppEq: cro2GppEq, xDom: [-2, 0], xTicks: xT2, xFmt: '.1f', etDom: [235, 1200], etTicks: etT400, gDom: [0, 1200], gTicks: gT1200, gPos: [[0.26, 0.09], [0.26, 0.15]], ePos: [[0.04, 0.52], [0.04, 0.575], [0.04, 0.63]] },
  { row: 6, col: 2, data: cro3, etFit: cro3EtFit, gppFit: cro3GppFit, etEq: cro3EtEq, gppEq: cro3GppEq, xDom: [-3, 0], xTicks: xT3half, xFmt: '.1f', etDom: [235, 1200], etTicks: etT400, gDom: [0, 1200], gTicks: gT1200, gPos: [[0.23, 0.08], [0.26, 0.135], [0.26, 0.19]], ePos: [[0.045, 0.80], [0.045, 0.86]] },
];

const C = {
  orangePt: '#F77F1E', greenPt: '#1F9E22',
  orangeTxt: '#F6A25E', greenTxt: '#4BAE45',
  orangeAx: '#F8BE8C', greenAx: '#8DC97A',
  frame: '#333', trend: '#4d4d4d',
};
const FONT = '"Liberation Serif", "DejaVu Serif", serif';

function Eq({ s, x, y, fill }: { s: string; x: number; y: number; fill: string }) {
  const parts = s.split(/\^\{([^}]*)\}/);
  return (
    <text x={x} y={y} fill={fill} fontSize={5.3} fontFamily={FONT} dominantBaseline="middle">
      {parts.map((p, i) =>
        i % 2 === 1 ? (
          <tspan key={i} dy={-1.8} fontSize={3.8}>{p}</tspan>
        ) : (
          <tspan key={i} dy={i > 0 ? 1.8 : 0}>{p}</tspan>
        )
      )}
    </text>
  );
}

function Panel({ c }: { c: Cfg }) {
  const [x0, x1] = colX[c.col];
  const y0 = rowY[c.row][0] + (c.dTop || 0);
  const y1 = rowY[c.row][1] + (c.dBot || 0);
  const xs = d3.scaleLinear().domain(c.xDom).range([x0, x1]);
  const ye = d3.scaleLinear().domain(c.etDom).range([y1, y0]);
  const yg = d3.scaleLinear().domain(c.gDom).range([y1, y0]);
  const fmt = d3.format(c.xFmt);
  const lineE = d3.line<number[]>().x(d => xs(d[0])).y(d => ye(d[1])).curve(d3.curveCatmullRom.alpha(0.5));
  const lineG = d3.line<number[]>().x(d => xs(d[0])).y(d => yg(d[1])).curve(d3.curveCatmullRom.alpha(0.5));
  const pw = x1 - x0, ph = y1 - y0;
  const ym = (y0 + y1) / 2;
  const clipId = `clip-${c.row}-${c.col}`;
  return (
    <g>
      <defs>
        <clipPath id={clipId}><rect x={x0} y={y0} width={pw} height={ph} /></clipPath>
      </defs>
      <line x1={x0} x2={x1} y1={y0} y2={y0} stroke={C.frame} strokeWidth={0.6} />
      <line x1={x0} x2={x1} y1={y1} y2={y1} stroke={C.frame} strokeWidth={0.6} />
      <line x1={x0} x2={x0} y1={y0} y2={y1} stroke={C.orangeAx} strokeWidth={0.8} />
      <line x1={x1} x2={x1} y1={y0} y2={y1} stroke={C.greenAx} strokeWidth={0.8} />
      {c.xTicks.map(t => (
        <g key={'x' + t}>
          <line x1={xs(t)} x2={xs(t)} y1={y1} y2={y1 + 1.8} stroke={C.frame} strokeWidth={0.5} />
          <text x={xs(t)} y={y1 + 6.2} fontSize={4.6} fontFamily={FONT} textAnchor="middle" fill="#333">{fmt(t)}</text>
        </g>
      ))}
      <text x={(x0 + x1) / 2} y={y1 + 14.5} fontSize={5.8} fontFamily={FONT} textAnchor="middle" fill="#222">{`SSMI-${c.col + 1}`}</text>
      {c.etTicks.map(t => (
        <g key={'e' + t}>
          <line x1={x0 - 1.8} x2={x0} y1={ye(t)} y2={ye(t)} stroke={C.orangeAx} strokeWidth={0.5} />
          <text x={x0 - 2.8} y={ye(t)} fontSize={4.4} fontFamily={FONT} textAnchor="end" dominantBaseline="middle" fill={C.orangeTxt}>{t}</text>
        </g>
      ))}
      <text transform={`translate(${x0 - 16.5},${ym}) rotate(-90)`} fontSize={5.4} fontFamily={FONT} textAnchor="middle" fill="#333">ET(mm)</text>
      {c.gTicks.map(t => (
        <g key={'g' + t}>
          <line x1={x1} x2={x1 + 1.8} y1={yg(t)} y2={yg(t)} stroke={C.greenAx} strokeWidth={0.5} />
          <text x={x1 + 2.8} y={yg(t)} fontSize={4.4} fontFamily={FONT} textAnchor="start" dominantBaseline="middle" fill={C.greenTxt}>{t}</text>
        </g>
      ))}
      <text transform={`translate(${x1 + 12.5},${ym}) rotate(90)`} fontSize={5.4} fontFamily={FONT} textAnchor="middle" fill="#333">
        GPP(g C kg<tspan dy={-1.8} fontSize={3.8}>-1</tspan><tspan dy={1.8}>)</tspan>
      </text>
      <g clipPath={`url(#${clipId})`}>
        {c.data.map((d, i) => (
          <circle key={'gp' + i} cx={xs(d[0])} cy={yg(d[2])} r={1.5} fill={C.greenPt} />
        ))}
        {c.data.map((d, i) => (
          <circle key={'ep' + i} cx={xs(d[0])} cy={ye(d[1])} r={1.5} fill={C.orangePt} />
        ))}
        <path d={lineG(c.gppFit) || ''} fill="none" stroke={C.trend} strokeWidth={0.8} strokeDasharray="1.8,1.2" />
        <path d={lineE(c.etFit) || ''} fill="none" stroke={C.trend} strokeWidth={0.8} strokeDasharray="1.8,1.2" />
      </g>
      {c.gppEq.map((s, i) => (
        <Eq key={'ge' + i} s={s} x={x0 + c.gPos[i][0] * pw} y={y0 + c.gPos[i][1] * ph} fill={C.greenTxt} />
      ))}
      {c.etEq.map((s, i) => (
        <Eq key={'ee' + i} s={s} x={x0 + c.ePos[i][0] * pw} y={y0 + c.ePos[i][1] * ph} fill={C.orangeTxt} />
      ))}
      <text x={x0 + 2.5} y={y0 + 5.5} fontSize={5.6} fontFamily={FONT} fill="#222">{labels[c.row]}</text>
    </g>
  );
}

export default function App() {
  return (
    <svg width={W} height={H} viewBox={`0 0 ${W} ${H}`} style={{ position: 'absolute', left: 0, top: 0, background: '#fff' }}>
      <rect x={0} y={0} width={W} height={H} fill="#fff" />
      {panels.map((c, i) => <Panel key={i} c={c} />)}
    </svg>
  );
}
